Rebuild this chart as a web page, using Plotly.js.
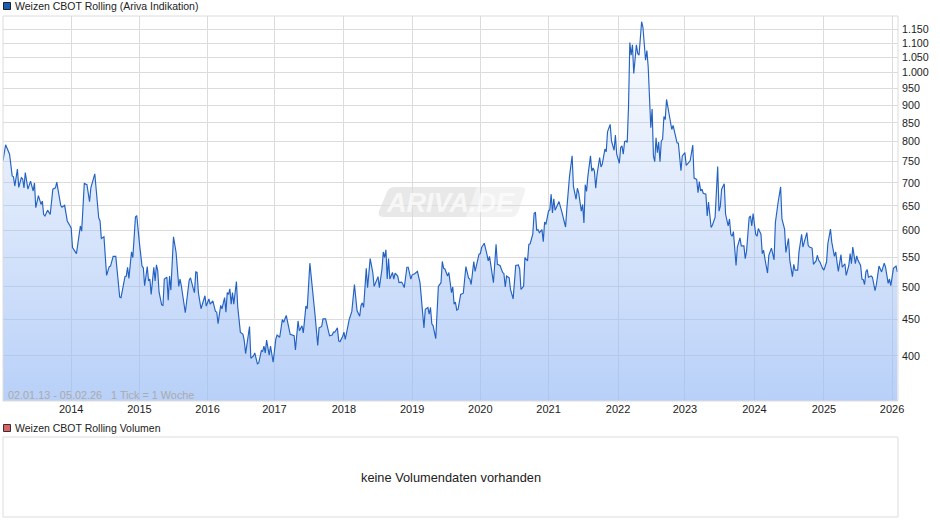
<!DOCTYPE html>
<html><head><meta charset="utf-8">
<script src="https://cdn.plot.ly/plotly-3.0.1.min.js"></script>
<style>html,body{margin:0;padding:0;background:#fff}#c{width:940px;height:526px}</style></head>
<body><div id="c"></div>
<script>
// Week number since 02.01.13 (1 Tick = 1 Woche) and price
const weeks = [0,2,5,6,7,8,9,11,12,14,15,16,17,19,21,23,24,25,27,29,30,31,32,34,36,38,40,41,42,44,45,47,49,52,53,56,59,60,62,64,66,67,70,72,73,74,75,77,79,81,82,84,86,89,90,93,94,95,96,98,99,101,102,104,106,107,108,110,111,112,113,115,116,117,118,119,121,122,123,125,126,127,128,130,132,134,135,136,139,142,143,145,146,147,148,149,151,154,155,157,158,160,162,163,164,166,167,169,170,171,172,173,174,175,176,178,179,181,183,184,185,186,188,189,191,192,194,195,197,198,199,200,201,203,204,206,208,209,211,213,214,216,219,222,223,225,226,228,229,231,232,234,236,238,240,241,243,244,246,249,251,252,253,255,256,257,259,260,261,263,264,266,268,270,272,273,274,275,277,278,280,282,283,284,286,287,289,290,291,292,293,294,295,297,298,299,301,302,304,305,306,308,309,311,312,314,316,318,319,321,322,324,325,326,327,328,330,331,332,334,335,336,337,339,340,342,343,344,345,346,347,349,351,353,355,356,357,359,360,363,364,365,367,369,370,371,373,374,376,377,379,381,382,383,384,386,387,389,391,393,394,395,397,398,400,401,402,404,405,406,407,408,409,411,412,413,414,416,417,418,419,420,421,423,424,426,427,429,430,432,434,435,437,438,439,441,442,443,444,445,446,448,449,450,451,452,453,455,456,457,459,460,461,463,464,466,467,468,470,471,472,473,474,475,476,477,478,479,480,481,483,484,485,487,488,490,491,492,494,495,496,497,498,499,500,501,502,503,504,505,506,508,509,510,511,513,514,515,517,518,520,521,522,524,526,527,529,530,531,532,533,534,536,537,538,540,541,543,545,546,547,548,550,551,553,554,555,556,557,558,559,560,562,563,565,566,567,569,570,571,572,574,575,576,578,579,580,581,583,584,586,588,589,591,593,594,596,597,599,600,602,603,604,606,607,609,610,611,613,614,615,617,618,620,621,622,623,625,626,628,629,631,632,634,635,636,637,639,640,642,643,645,646,647,648,650,651,652,654,655,656,657,658,659,660,662,663,665,666,668,670,672,673,675,676,677,678,679,681,682];
const prices = [752,792,768,744,716,714,693,732,690,712,709,689,724,686,704,682,700,646,672,653,660,632,629,641,632,686,689,702,686,651,647,651,619,605,568,557,609,599,699,696,659,689,721,664,625,619,585,588,519,534,535,552,552,484,483,517,518,533,514,560,550,627,630,577,535,532,502,534,510,513,488,533,510,537,527,492,472,471,513,516,479,518,495,588,559,501,513,502,460,511,515,498,491,525,524,491,466,486,470,481,473,478,462,461,444,471,466,483,461,491,488,497,473,491,473,509,469,432,429,420,403,415,440,397,400,404,390,391,407,406,413,404,421,401,413,392,422,428,425,450,446,456,429,427,408,448,434,441,431,470,466,540,501,456,414,438,440,451,451,427,428,432,432,438,420,419,426,432,422,443,450,462,504,463,455,471,475,468,531,499,548,524,501,506,517,499,530,560,550,564,513,548,513,524,513,523,518,507,508,504,499,533,533,513,520,522,526,507,484,438,465,468,458,468,444,441,423,473,501,507,543,531,530,518,524,491,500,473,476,464,465,488,490,534,515,513,504,543,526,556,557,568,576,556,544,552,518,507,574,538,536,524,522,500,518,515,496,481,536,537,530,496,501,550,544,574,575,593,634,637,600,602,596,602,579,617,612,639,642,675,635,665,641,654,659,639,629,607,645,715,764,692,664,688,678,639,653,615,696,681,715,764,727,735,727,688,719,760,737,744,781,774,826,846,802,778,817,768,746,785,789,768,800,802,798,896,1102,1058,1094,997,1094,1064,1058,1179,1158,1041,1074,1019,837,889,764,750,810,772,799,750,802,806,868,859,917,873,846,832,843,810,797,796,728,764,772,741,744,752,791,711,708,678,703,682,686,677,675,629,658,606,611,626,738,639,649,686,698,633,609,623,593,589,598,572,536,569,586,571,571,548,561,626,629,609,634,593,589,604,593,557,563,548,523,554,567,546,616,656,691,623,603,559,585,545,517,538,528,528,560,593,569,578,596,572,569,567,538,544,554,545,542,531,528,542,575,603,578,552,560,542,526,555,533,539,519,536,557,539,569,539,553,545,536,513,512,504,525,529,516,518,516,494,504,535,525,540,533,506,513,502,516,531,535,525];
const yearTicks = [52,104,156,207,260,312,364,416,469,520,573,626,678];
const yearLabels = ['2014','2015','2016','2017','2018','2019','2020','2021','2022','2023','2024','2025','2026'];
const priceTicks = [400,450,500,550,600,650,700,750,800,850,900,950,1000,1050,1100,1150];
const priceLabels = ['400','450','500','550','600','650','700','750','800','850','900','950','1.000','1.050','1.100','1.150'];

const W=940,H=526,L=3,R=898,T=16,B=401;
const px=x=>(x-L)/(R-L), py=y=>(B-y)/(B-T);
const rect=(x0,y0,x1,y1,fill,line)=>({type:'rect',xref:'paper',yref:'paper',x0:px(x0),x1:px(x1),y0:py(y0),y1:py(y1),fillcolor:fill,line:{color:line,width:1},layer:'above'});
const pathShape=(d,fill)=>({type:'path',xref:'paper',yref:'paper',layer:'below',fillcolor:fill,line:{width:0},
  path:d.replace(/(-?[\d.]+),(-?[\d.]+)/g,(m,a,b)=>px(+a)+','+py(+b))});
const note=(x,y,text,size,color,anchor,extra)=>Object.assign({xref:'paper',yref:'paper',x:px(x),y:py(y),text,showarrow:false,xanchor:anchor||'left',yanchor:'middle',
  font:{family:'Liberation Sans, Arial, sans-serif',size,color},borderpad:0,borderwidth:0},extra||{});

const trace={type:'scatter',mode:'lines',x:weeks,y:prices,fill:'tozeroy',hoverinfo:'skip',
  line:{color:'#2362c2',width:1.15,shape:'linear'},
  fillgradient:{type:'vertical',start:345.8,stop:1201,colorscale:[[0,'rgba(154,188,245,0.7)'],[1,'rgba(154,188,245,0)']]}};

const layout={width:W,height:H,margin:{l:L,r:W-R,t:T,b:H-B,pad:0},paper_bgcolor:'#fff',plot_bgcolor:'#fff',showlegend:false,
  font:{family:'Liberation Sans, Arial, sans-serif',size:11,color:'#222'},
  xaxis:{type:'linear',range:[0,682.5],tickmode:'array',tickvals:yearTicks,ticktext:yearLabels,showgrid:true,gridcolor:'#dcdcdc',gridwidth:1,
    zeroline:false,showline:false,ticks:'',ticklabelstandoff:0,tickfont:{size:11,color:'#222'},fixedrange:true},
  yaxis:{type:'log',side:'right',range:[Math.log10(345.8),Math.log10(1201)],tickmode:'array',tickvals:priceTicks,ticktext:priceLabels,
    showgrid:true,gridcolor:'#dcdcdc',gridwidth:1,zeroline:false,showline:false,ticks:'',ticklabelstandoff:3,tickfont:{size:10.7,color:'#222'},fixedrange:true},
  shapes:[
    pathShape('M379,211 Q377,217 384,217 L466,217 L477,187 L395,187 Q389,187 387,192 Z','rgba(0,0,0,0.09)'),
    pathShape('M466,217 L477,187 L521,187 Q526,187 525,191 L518,212 Q516,217 511,217 Z','rgba(0,0,0,0.05)'),
    rect(L,T,R,B,'rgba(0,0,0,0)','#dcdcdc'),
    rect(L,437,R,517,'rgba(0,0,0,0)','#dcdcdc'),
    rect(3.5,2.5,10.5,9.5,'#1a5cb8','#222'),
    rect(3.5,424.5,10.5,431.5,'#dc6464','#333')
  ],
  annotations:[
    note(15,6,'Weizen CBOT Rolling (Ariva Indikation)',10.5,'#222'),
    note(15,428,'Weizen CBOT Rolling Volumen',10.5,'#222'),
    note(451,477.5,'keine Volumendaten vorhanden',12.8,'#222','center'),
    note(8,395,'02.01.13 - 05.02.26&nbsp;&nbsp;&nbsp;1 Tick = 1 Woche',10.85,'#aaaaaa'),
    note(450,203,'<b><i>ARIVA.DE</i></b>',27,'rgba(255,255,255,0.7)','center')
  ]};
Plotly.newPlot('c',[trace],layout,{displayModeBar:false,staticPlot:true});
</script></body></html>
